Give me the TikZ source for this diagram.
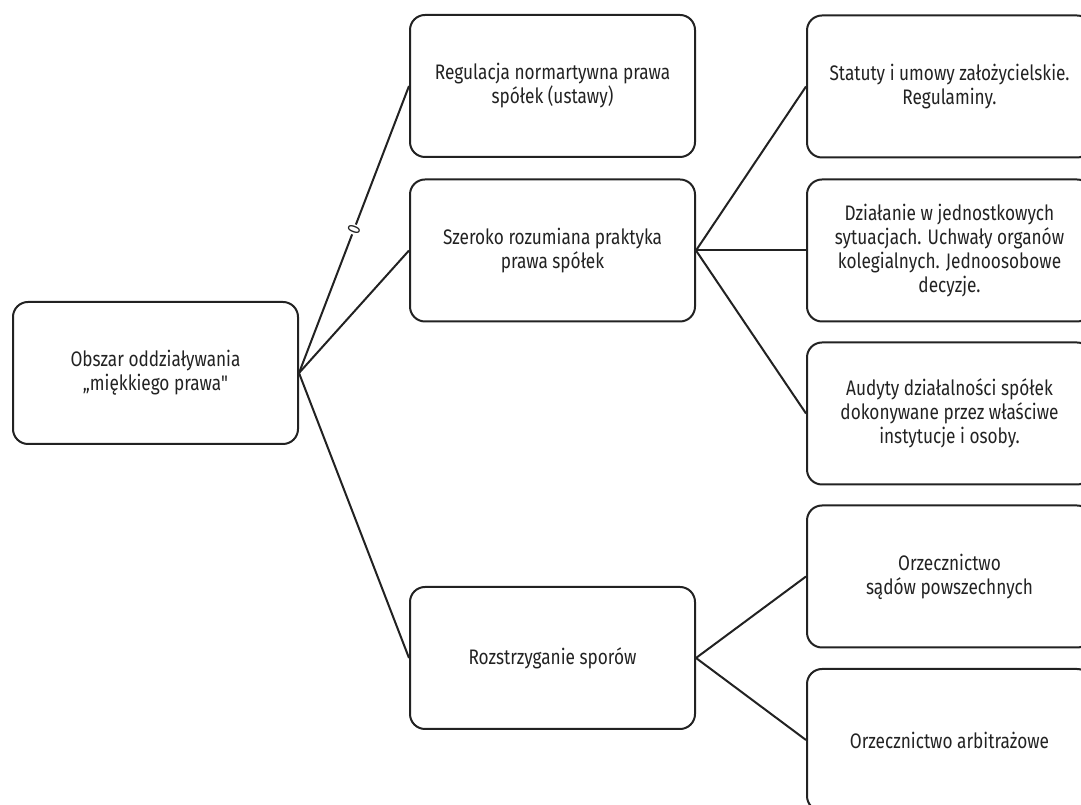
\documentclass[tikz,border=0pt]{standalone}
\usepackage{fontspec}
\setmainfont{Fira Sans}[FakeStretch=0.82]
\begin{document}
\begin{tikzpicture}[x=1pt,y=1pt,
  box/.style={draw=linec, line width=2pt, rounded corners=15pt,
    minimum width=285pt, minimum height=142pt, inner sep=0pt,
    align=center, text=textc, font=\fontsize{21}{24}\selectfont},
  conn/.style={draw=linec, line width=2pt},
  lbl/.style={fill=white, inner sep=1pt, text=textc, font=\fontsize{18}{18}\selectfont, sloped}
]
\definecolor{linec}{HTML}{222222}
\definecolor{textc}{HTML}{222222}
\useasboundingbox (0,0) rectangle (1081,805);
\node[box] (root) at (155.5,432) {Obszar oddziaływania\\„miękkiego prawa{\addfontfeature{Ligatures=TeXOff}"}};
\node[box] (m1) at (552.5,719) {Regulacja normartywna prawa\\spółek (ustawy)};
\node[box] (m2) at (552.5,554.5) {Szeroko rozumiana praktyka\\prawa spółek};
\node[box] (m3) at (552.5,147) {Rozstrzyganie sporów};
\node[box] (r1) at (949.5,718.5) {Statuty i umowy założycielskie.\\Regulaminy.};
\node[box] (r2) at (949.5,554.5) {Działanie w jednostkowych\\sytuacjach. Uchwały organów\\kolegialnych. Jednoosobowe\\decyzje.};
\node[box] (r3) at (949.5,391.5) {Audyty działalności spółek\\dokonywane przez właściwe\\instytucje i osoby.};
\node[box] (r4) at (949.5,228.5) {Orzecznictwo\\sądów powszechnych};
\node[box] (r5) at (949.5,65) {Orzecznictwo arbitrażowe};
\draw[conn] (root.east) -- node[lbl] {0} (m1.west);
\draw[conn] (root.east) -- (m2.west);
\draw[conn] (root.east) -- (m3.west);
\draw[conn] (m2.east) -- (r1.west);
\draw[conn] (m2.east) -- (r2.west);
\draw[conn] (m2.east) -- (r3.west);
\draw[conn] (m3.east) -- (r4.west);
\draw[conn] (m3.east) -- (r5.west);
\end{tikzpicture}
\end{document}
